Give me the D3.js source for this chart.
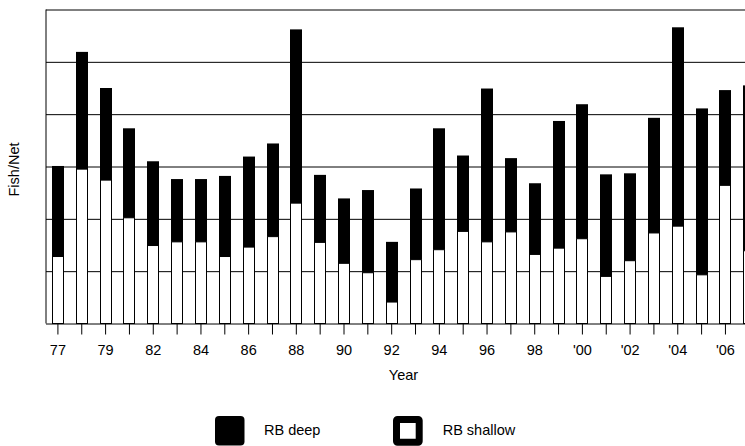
<!DOCTYPE html>
<html>
<head>
<meta charset="utf-8">
<script src="https://cdn.jsdelivr.net/npm/d3@7"></script>
<style>
  html, body { margin: 0; padding: 0; background: #fff; overflow: hidden; }
  text { font-family: "Liberation Sans", Arial, sans-serif; fill: #000; }
</style>
</head>
<body>
<script>
// years on the x axis (one year between 79 and 82 has no sample)
const years = ["77", "78", "79", "81", "82", "83", "84", "85", "86", "87",
               "88", "89", "90", "91", "92", "93", "94", "95", "96", "97",
               "98", "99", "'00", "'01", "'02", "'03", "'04", "'05", "'06", "'07"];
// only every other year gets a label
const tickLabels = ["77", "79", "82", "84", "86", "88", "90", "92", "94", "96",
                    "98", "'00", "'02", "'04", "'06"];

// fish per net, stacked: shallow at the bottom, deep on top
const rbShallow = [1.28, 2.95, 2.74, 2.02, 1.49, 1.56, 1.56, 1.28, 1.46, 1.66,
                   2.30, 1.55, 1.15, 0.97, 0.41, 1.22, 1.41, 1.76, 1.56, 1.75,
                   1.32, 1.44, 1.62, 0.90, 1.20, 1.73, 1.86, 0.93, 2.64, 1.39];
const rbDeep    = [1.73, 2.24, 1.76, 1.71, 1.61, 1.20, 1.20, 1.54, 1.73, 1.78,
                   3.32, 1.29, 1.24, 1.58, 1.15, 1.36, 2.32, 1.45, 2.93, 1.41,
                   1.36, 2.43, 2.57, 1.95, 1.67, 2.20, 3.80, 3.18, 1.82, 3.16];
const yTicks = [0, 1, 2, 3, 4, 5, 6];

const W = 745, H = 446;
const plot = { left: 46, top: 9.5, bottom: 323.5, step: 23.84 };

const svg = d3.select('body').append('svg')
    .attr('width', W)
    .attr('height', H);

const x = d3.scaleBand()
    .domain(years)
    .range([plot.left, plot.left + plot.step * years.length])
    .paddingInner(0.5)
    .paddingOuter(0.25);

const y = d3.scaleLinear()
    .domain([0, 6])
    .range([plot.bottom, plot.top]);

// horizontal grid, runs a bit left of the axis like a tick
svg.append('g')
    .attr('transform', `translate(${plot.left},0)`)
    .call(d3.axisLeft(y).tickValues(yTicks).tickSize(11).tickFormat(''))
    .call(g => g.select('.domain').remove())
    .call(g => g.selectAll('.tick line').attr('stroke', '#000').attr('x2', W - plot.left));

const rows = years.map((yr, i) => ({ year: yr, shallow: rbShallow[i], deep: rbDeep[i] }));

const bars = svg.append('g');

bars.selectAll('rect.shallow')
    .data(rows)
    .join('rect')
    .attr('class', 'shallow')
    .attr('x', d => Math.round(x(d.year)) + 0.5)
    .attr('width', Math.round(x.bandwidth()) - 1)
    .attr('y', d => y(d.shallow))
    .attr('height', d => y(0) - y(d.shallow))
    .attr('fill', '#fff')
    .attr('stroke', '#000')
    .attr('stroke-width', 1);

bars.selectAll('rect.deep')
    .data(rows)
    .join('rect')
    .attr('class', 'deep')
    .attr('x', d => Math.round(x(d.year)))
    .attr('width', Math.round(x.bandwidth()))
    .attr('y', d => y(d.shallow + d.deep))
    .attr('height', d => y(d.shallow) - y(d.shallow + d.deep))
    .attr('fill', '#000');

// left axis line
svg.append('line')
    .attr('x1', plot.left).attr('x2', plot.left)
    .attr('y1', y(6)).attr('y2', y(0))
    .attr('stroke', '#000');

// x axis ticks and labels
const xAxis = svg.append('g')
    .attr('transform', `translate(0,${plot.bottom})`)
    .call(d3.axisBottom(x)
        .tickSize(11)
        .tickPadding(10)
        .tickFormat(d => tickLabels.includes(d) ? d : ''));
xAxis.select('.domain').remove();
xAxis.selectAll('.tick line').attr('stroke', '#000');
xAxis.selectAll('.tick text')
    .style('font-size', '14.5px')
    .attr('font-family', null);

svg.append('text')
    .attr('x', 403.5)
    .attr('y', 380)
    .attr('text-anchor', 'middle')
    .style('font-size', '14.5px')
    .text('Year');

svg.append('text')
    .attr('transform', 'translate(18.5,169.5) rotate(-90)')
    .attr('text-anchor', 'middle')
    .style('font-size', '14.5px')
    .text('Fish/Net');

// legend
const legend = svg.append('g');
legend.append('rect')
    .attr('x', 215).attr('y', 416)
    .attr('width', 29.5).attr('height', 29.5)
    .attr('rx', 4)
    .attr('fill', '#000');
legend.append('text')
    .attr('x', 264).attr('y', 435)
    .style('font-size', '14.5px')
    .text('RB deep');

legend.append('rect')
    .attr('x', 396.5).attr('y', 419.5)
    .attr('width', 22.7).attr('height', 22.7)
    .attr('rx', 1)
    .attr('fill', '#fff')
    .attr('stroke', '#000')
    .attr('stroke-width', 7)
    .attr('stroke-linejoin', 'round');
legend.append('text')
    .attr('x', 442.7).attr('y', 435)
    .style('font-size', '14.5px')
    .text('RB shallow');
</script>
</body>
</html>
